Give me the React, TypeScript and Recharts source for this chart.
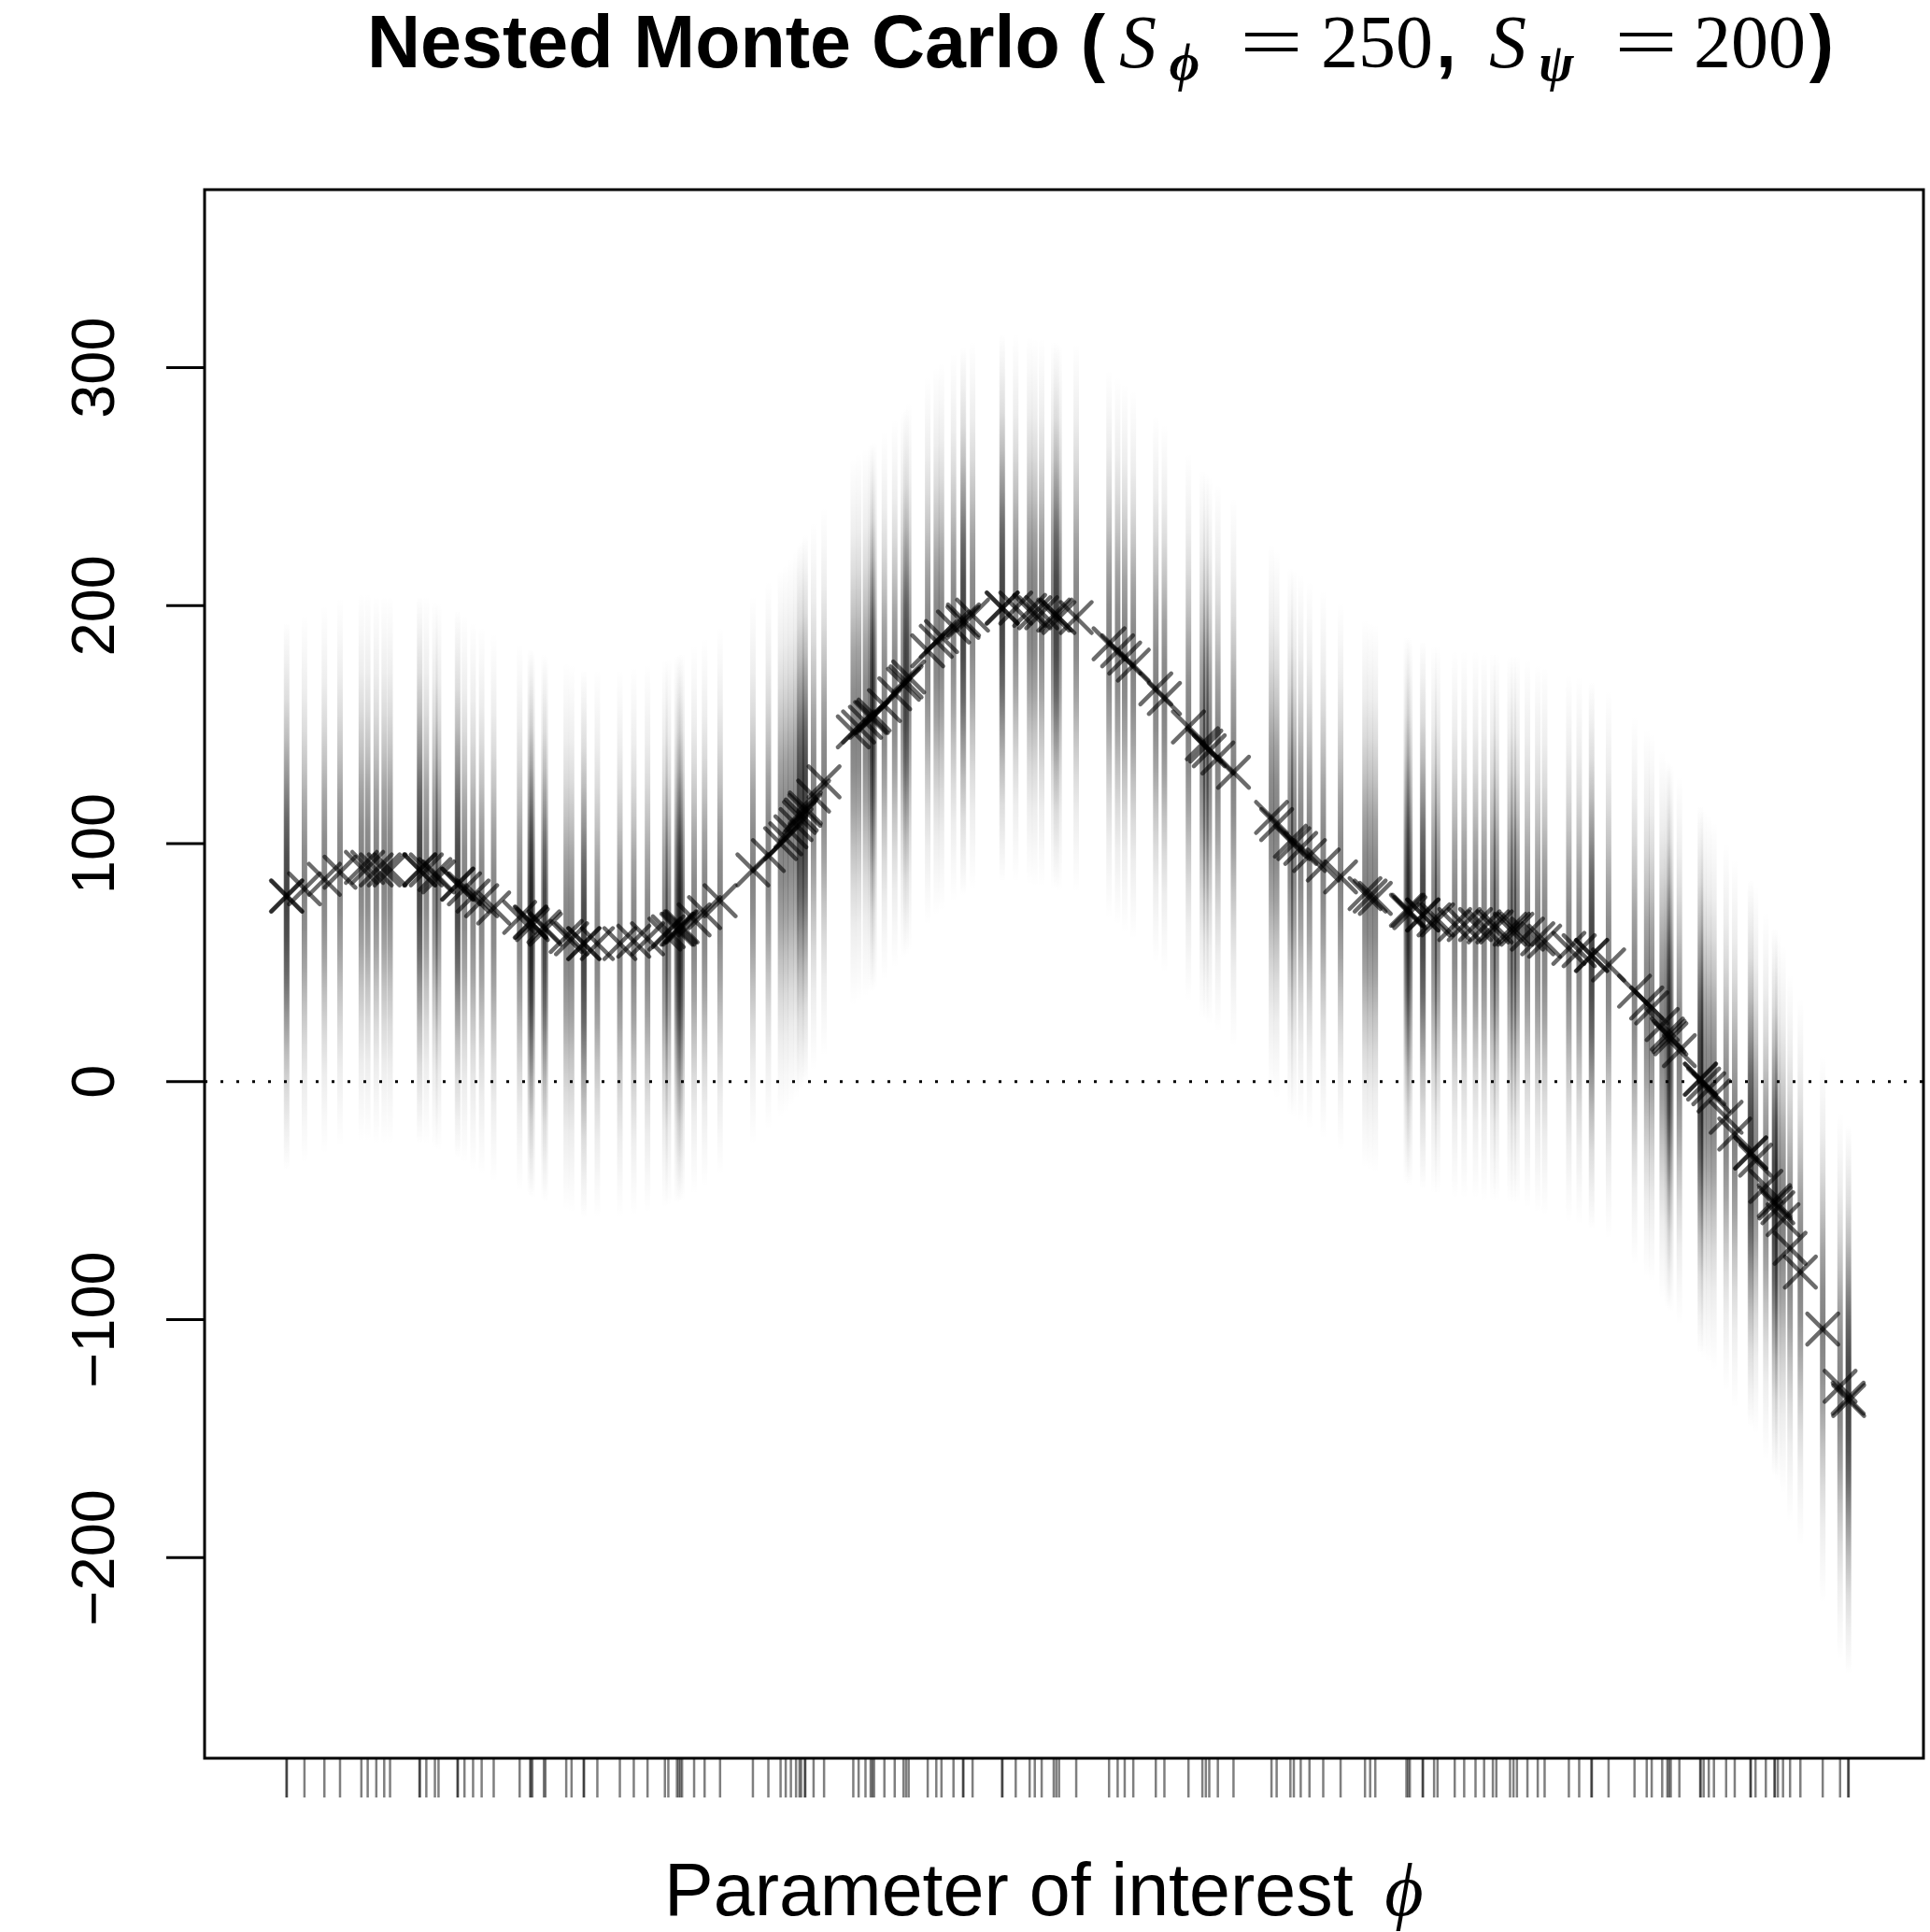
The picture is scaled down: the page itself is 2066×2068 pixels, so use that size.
import { ComposedChart, Scatter, XAxis, YAxis, ReferenceArea, ReferenceLine } from "recharts"

// phi values of the outer samples (one per rug tick, repeated where ticks overlap)
const phiValues = [
  0.0476, 0.0479, 0.0581, 0.0697, 0.0788, 0.0912, 0.0949, 0.0999, 0.1045, 0.1079,
  0.125, 0.1253, 0.129, 0.134, 0.1361, 0.1471, 0.1474, 0.1512, 0.1562, 0.1612,
  0.1682, 0.1833, 0.1894, 0.1899, 0.1907, 0.1974, 0.1983, 0.2104, 0.2135, 0.2205,
  0.2208, 0.2285, 0.2416, 0.2497, 0.2577, 0.2678, 0.2698, 0.2748, 0.2758, 0.2768,
  0.2778, 0.2848, 0.2909, 0.2999, 0.319, 0.328, 0.3351, 0.3381, 0.3411, 0.3441,
  0.3461, 0.3471, 0.3492, 0.3495, 0.3543, 0.3604, 0.3774, 0.3805, 0.3845, 0.3875,
  0.3885, 0.3895, 0.3955, 0.4015, 0.4066, 0.4081, 0.4096, 0.4207, 0.4257, 0.4287,
  0.4357, 0.4412, 0.4415, 0.4468, 0.4639, 0.4642, 0.4719, 0.48, 0.483, 0.487,
  0.494, 0.4955, 0.4971, 0.5071, 0.5262, 0.5312, 0.5353, 0.5403, 0.5534, 0.5584,
  0.5724, 0.5805, 0.5825, 0.5845, 0.5895, 0.5986, 0.6207, 0.6237, 0.6317, 0.6337,
  0.6377, 0.6428, 0.6508, 0.6609, 0.6751, 0.6781, 0.6811, 0.6992, 0.7002, 0.7012,
  0.7086, 0.7089, 0.7153, 0.7173, 0.7273, 0.7328, 0.7394, 0.7444, 0.7495, 0.7515,
  0.7595, 0.7615, 0.7635, 0.7696, 0.7756, 0.7796, 0.7937, 0.7997, 0.8068, 0.8071,
  0.8168, 0.8319, 0.839, 0.8419, 0.848, 0.851, 0.852, 0.853, 0.858, 0.8701,
  0.8704, 0.8721, 0.8751, 0.8781, 0.8852, 0.8902, 0.8993, 0.8996, 0.9023, 0.9083,
  0.9133, 0.9136, 0.9153, 0.9183, 0.9224, 0.9284, 0.9414, 0.9515, 0.9562, 0.9565,
]

// inner Monte Carlo mean at each phi (the x markers)
const meanValues = [
  78, 78, 81, 85, 88, 90, 90, 89, 89, 89,
  89, 89, 89, 87, 86, 83, 83, 81, 78, 76,
  73, 69, 67, 67, 66, 65, 64, 61, 60, 58,
  58, 58, 58, 59, 60, 62, 63, 64, 64, 65,
  65, 68, 71, 76, 89, 95, 100, 102, 105, 108,
  111, 112, 114, 115, 120, 126, 147, 149, 151, 153,
  153, 154, 158, 163, 167, 168, 170, 181, 185, 187,
  191, 193, 194, 196, 199, 199, 199, 198, 197, 197,
  196, 196, 195, 195, 184, 181, 178, 175, 165, 161,
  149, 142, 141, 139, 136, 130, 111, 108, 101, 100,
  98, 95, 91, 86, 79, 78, 77, 72, 72, 71,
  70, 70, 68, 68, 66, 66, 66, 65, 65, 65,
  64, 64, 64, 62, 60, 59, 56, 55, 53, 53,
  49, 38, 33, 31, 24, 20, 19, 18, 13, 1,
  1, -1, -3, -6, -15, -22, -30, -30, -33, -44,
  -50, -51, -53, -58, -70, -80, -104, -128, -133, -134,
]

// spread of the inner samples around each mean
const stripSd = 33

const yTicks = [-200, -100, 0, 100, 200, 300]

const X_DOMAIN: [number, number] = [0, 1]
const Y_DOMAIN: [number, number] = [-284.3, 374.8]
const STRIP_HALF = 0.0016

const SANS = "'Liberation Sans', Arial, Helvetica, sans-serif"
const SERIF = "'Liberation Serif', 'DejaVu Serif', serif"

const points = phiValues.map((phi, i) => ({ phi, mean: meanValues[i] }))

function XMark(props: any) {
  const { cx, cy } = props
  if (cx == null || cy == null) return null
  const h = 16.5
  return (
    <g stroke="rgba(0,0,0,0.58)" strokeWidth={4.5} strokeLinecap="round">
      <line x1={cx - h} y1={cy - h} x2={cx + h} y2={cy + h} />
      <line x1={cx - h} y1={cy + h} x2={cx + h} y2={cy - h} />
    </g>
  )
}

function YTick(props: any) {
  const { x, y, payload } = props
  const v = payload.value
  const label = v < 0 ? "\u2212" + Math.abs(v) : String(v)
  return (
    <text x={x} y={y} transform={`rotate(-90, ${x}, ${y})`} textAnchor="middle" fontSize={65} fontFamily={SANS} fill="#000">
      {label}
    </text>
  )
}

const NoLabel = () => <g />

export default function App() {
  return (
    <div style={{ position: "absolute", left: 0, top: 0, width: 2066, height: 2068, background: "#fff" }}>
      <svg width={2066} height={2068} style={{ position: "absolute", left: 0, top: 0, pointerEvents: "none", zIndex: 2 }}>
        <defs>
          <linearGradient id="stripGrad" x1="0" y1="0" x2="0" y2="1">
            <stop offset="0" stopColor="#000" stopOpacity={0} />
            <stop offset="0.071" stopColor="#000" stopOpacity={0.03} />
            <stop offset="0.143" stopColor="#000" stopOpacity={0.07} />
            <stop offset="0.214" stopColor="#000" stopOpacity={0.14} />
            <stop offset="0.286" stopColor="#000" stopOpacity={0.24} />
            <stop offset="0.357" stopColor="#000" stopOpacity={0.36} />
            <stop offset="0.429" stopColor="#000" stopOpacity={0.45} />
            <stop offset="0.5" stopColor="#000" stopOpacity={0.49} />
            <stop offset="0.571" stopColor="#000" stopOpacity={0.45} />
            <stop offset="0.643" stopColor="#000" stopOpacity={0.36} />
            <stop offset="0.714" stopColor="#000" stopOpacity={0.24} />
            <stop offset="0.786" stopColor="#000" stopOpacity={0.14} />
            <stop offset="0.857" stopColor="#000" stopOpacity={0.07} />
            <stop offset="0.929" stopColor="#000" stopOpacity={0.03} />
            <stop offset="1" stopColor="#000" stopOpacity={0} />
          </linearGradient>
        </defs>
        {/* title */}
        <text x={393} y={72} fontSize={79} fontWeight="bold" fontFamily={SANS}>Nested Monte Carlo (</text>
        <text x={1218} y={72} fontSize={80} fontStyle="italic" fontFamily={SERIF} textAnchor="middle">S</text>
        <text x={1268} y={86} fontSize={56} fontStyle="italic" fontWeight="bold" fontFamily={SERIF} textAnchor="middle">ϕ</text>
        <text x={1327} y={72} fontSize={80} fontFamily={SERIF} textLength={68} lengthAdjust="spacingAndGlyphs">=</text>
        <text x={1474} y={72} fontSize={80} fontFamily={SERIF} textAnchor="middle">250</text>
        <text x={1537} y={72} fontSize={79} fontWeight="bold" fontFamily={SANS}>,</text>
        <text x={1614} y={72} fontSize={80} fontStyle="italic" fontFamily={SERIF} textAnchor="middle">S</text>
        <text x={1666} y={86} fontSize={56} fontStyle="italic" fontWeight="bold" fontFamily={SERIF} textAnchor="middle">ψ</text>
        <text x={1728} y={72} fontSize={80} fontFamily={SERIF} textLength={68} lengthAdjust="spacingAndGlyphs">=</text>
        <text x={1873} y={72} fontSize={80} fontFamily={SERIF} textAnchor="middle">200</text>
        <text x={1950} y={72} fontSize={79} fontWeight="bold" fontFamily={SANS} textAnchor="middle">)</text>
        {/* x axis label */}
        <text x={711} y={2050} fontSize={79} fontFamily={SANS}>Parameter of interest</text>
        <text x={1503} y={2050} fontSize={80} fontStyle="italic" fontFamily={SERIF} textAnchor="middle">ϕ</text>
      </svg>
      <div style={{ position: "absolute", left: 0, top: 0 }}>
        <ComposedChart width={2066} height={2068} data={points} margin={{ top: 203, right: 7, bottom: 136, left: 99 }}>
          <XAxis
            dataKey="phi"
            type="number"
            domain={X_DOMAIN}
            allowDataOverflow
            ticks={phiValues}
            interval={0}
            tick={NoLabel}
            tickSize={42}
            tickLine={{ stroke: "rgba(0,0,0,0.5)", strokeWidth: 2.5 }}
            axisLine={false}
            height={50}
          />
          <YAxis
            dataKey="mean"
            type="number"
            domain={Y_DOMAIN}
            allowDataOverflow
            ticks={yTicks}
            interval={0}
            tickSize={41}
            tickMargin={56}
            tickLine={{ stroke: "#000", strokeWidth: 3 }}
            axisLine={false}
            width={120}
            tick={(p: any) => <YTick {...p} />}
          />
          {phiValues.map((phi, i) => (
            <ReferenceArea
              key={"strip" + i}
              x1={phi - STRIP_HALF}
              x2={phi + STRIP_HALF}
              y1={meanValues[i] - 3.5 * stripSd}
              y2={meanValues[i] + 3.5 * stripSd}
              fill="url(#stripGrad)"
              fillOpacity={1}
              stroke="none"
            />
          ))}
          <ReferenceLine y={0} stroke="#000" strokeWidth={3} strokeDasharray="3 14" />
          <ReferenceArea
            x1={X_DOMAIN[0]}
            x2={X_DOMAIN[1]}
            y1={Y_DOMAIN[0]}
            y2={Y_DOMAIN[1]}
            fill="none"
            fillOpacity={0}
            stroke="#000"
            strokeWidth={3}
          />
          <Scatter dataKey="mean" shape={XMark} isAnimationActive={false} />
        </ComposedChart>
      </div>
    </div>
  )
}
